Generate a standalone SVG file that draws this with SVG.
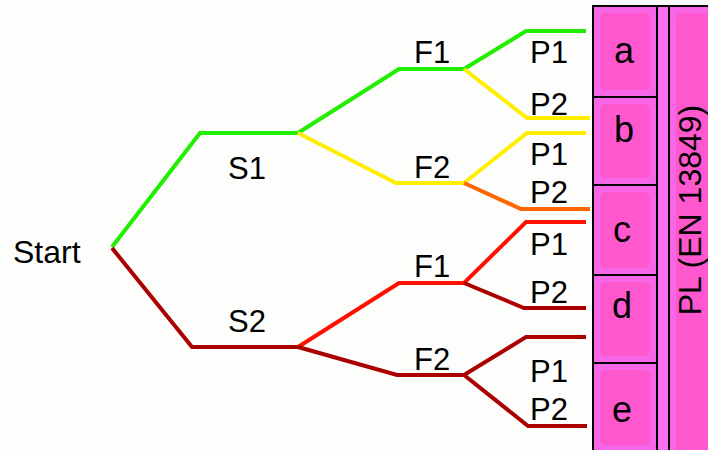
<svg xmlns="http://www.w3.org/2000/svg" width="708" height="450" viewBox="0 0 708 450">
<style>
.lbl{font-family:"Liberation Sans",Arial,sans-serif;font-size:31px;fill:#000}
.cl{font-family:"Liberation Sans",Arial,sans-serif;font-size:36px;fill:#000;text-anchor:middle}
.ln{fill:none;stroke-width:4;stroke-linejoin:miter;stroke-linecap:butt}
.cell{fill:#F866E8;stroke:#000;stroke-width:2}
.inner{fill:#FF58CF}
</style>
<rect width="708" height="450" fill="#FDFDFB"/>
<g id="connectors">
<path class="ln" stroke="#22EE00" d="M112,247 L200,133 L298,133 L399,69 L464,69 L526,31 L586,31"/>
<path class="ln" stroke="#FFEE00" d="M298,133 L396,183 L464,183"/>
<path class="ln" stroke="#FFEE00" d="M464,69 L527,118 L590,118"/>
<path class="ln" stroke="#FFEE00" d="M464,183 L527,133 L586,133"/>
<path class="ln" stroke="#FF6600" d="M464,183 L521,209 L590,209"/>
<path class="ln" stroke="#AA0000" d="M112,248 L192,347 L298,347"/>
<path class="ln" stroke="#FF1100" d="M298,347 L399,283 L464,283 L526,222 L586,222"/>
<path class="ln" stroke="#AA0000" d="M464,283 L524,308 L586,308"/>
<path class="ln" stroke="#AA0000" d="M298,347 L397,375 L464,375 L526,337 L586,337"/>
<path class="ln" stroke="#AA0000" d="M464,375 L528,426 L587,426"/>
</g>
<g id="start"><text class="lbl" x="13" y="263" style="font-size:32px">Start</text></g>
<g id="s1"><text class="lbl" x="228" y="179">S1</text></g>
<g id="s2"><text class="lbl" x="228" y="332">S2</text></g>
<g id="f1a"><text class="lbl" x="414" y="63">F1</text></g>
<g id="f2a"><text class="lbl" x="414" y="178">F2</text></g>
<g id="f1b"><text class="lbl" x="414" y="277">F1</text></g>
<g id="f2b"><text class="lbl" x="414" y="370">F2</text></g>
<g id="p1a"><text class="lbl" x="530" y="63">P1</text></g>
<g id="p2a"><text class="lbl" x="530" y="115">P2</text></g>
<g id="p1b"><text class="lbl" x="530" y="165">P1</text></g>
<g id="p2b"><text class="lbl" x="530" y="203">P2</text></g>
<g id="p1c"><text class="lbl" x="530" y="255">P1</text></g>
<g id="p2c"><text class="lbl" x="530" y="303">P2</text></g>
<g id="p1d"><text class="lbl" x="530" y="382">P1</text></g>
<g id="p2d"><text class="lbl" x="530" y="420">P2</text></g>
<g id="panel">
<rect x="657" y="6" width="12" height="450" fill="#F870F0" stroke="#000" stroke-width="2"/>
<rect class="cell" x="669" y="6" width="45" height="450"/>
<rect class="inner" x="676" y="13" width="40" height="440" rx="5"/>
<text font-family="Liberation Sans, Arial, sans-serif" font-size="32" text-anchor="middle" transform="translate(701,210) rotate(-90)">PL (EN 13849)</text>
</g>
<g id="cell-a"><rect class="cell" x="593" y="6" width="64" height="91"/><rect class="inner" x="600" y="13" width="50" height="77" rx="5"/><text class="cl" x="624" y="63">a</text></g>
<g id="cell-b"><rect class="cell" x="593" y="97" width="64" height="88"/><rect class="inner" x="600" y="104" width="50" height="74" rx="5"/><text class="cl" x="624" y="142">b</text></g>
<g id="cell-c"><rect class="cell" x="593" y="185" width="64" height="90"/><rect class="inner" x="600" y="192" width="50" height="76" rx="5"/><text class="cl" x="622" y="242">c</text></g>
<g id="cell-d"><rect class="cell" x="593" y="275" width="64" height="88"/><rect class="inner" x="600" y="282" width="50" height="74" rx="5"/><text class="cl" x="622" y="318">d</text></g>
<g id="cell-e"><rect class="cell" x="593" y="363" width="64" height="95"/><rect class="inner" x="600" y="370" width="50" height="75" rx="5"/><text class="cl" x="622" y="422">e</text></g>
</svg>
